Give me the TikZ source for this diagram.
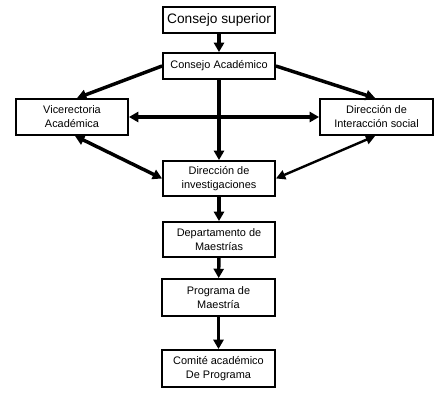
\documentclass[tikz,border=0pt]{standalone}
\usepackage{fontspec}
\setmainfont{Liberation Sans}
\usetikzlibrary{arrows.meta,calc}
\begin{document}
\begin{tikzpicture}[x=0.75pt,y=-0.75pt,
  box/.style={draw,line width=1.4pt,rectangle,inner sep=0pt,align=center,
    font=\fontsize{8.2pt}{10.5pt}\selectfont},
  arr/.style={line width=2.6pt,-{Triangle[length=7pt,width=7.5pt]}},
  darr/.style={line width=2.6pt,{Triangle[length=7pt,width=7.5pt]}-{Triangle[length=7pt,width=7.5pt]}},
  tarr/.style={line width=1.8pt,{Triangle[length=7pt,width=7pt]}-{Triangle[length=7pt,width=7pt]}}]
\useasboundingbox (0,0) rectangle (442,412);
\node[box,minimum width=84pt,minimum height=19.5pt,font=\fontsize{10.3pt}{12pt}\selectfont] (cs) at (219,20) {Consejo superior};
\node[box,minimum width=84pt,minimum height=19.5pt] (ca) at (219,66) {Consejo Académico};
\node[box,minimum width=84pt,minimum height=27pt] (vr) at (72,117) {Vicerectoria\\Académica};
\node[box,minimum width=84.75pt,minimum height=27pt] (di) at (376.5,117) {Dirección de\\Interacción social};
\node[box,minimum width=84pt,minimum height=26.25pt] (dinv) at (219,178.5) {Dirección de\\investigaciones};
\node[box,minimum width=84pt,minimum height=26.25pt] (dm) at (219,239.5) {Departamento de\\Maestrías};
\node[box,minimum width=84.75pt,minimum height=27.75pt] (pm) at (218.5,297.5) {Programa de\\Maestría};
\node[box,minimum width=84.75pt,minimum height=27.75pt] (cap) at (218.5,368.5) {Comité académico\\De Programa};
\draw[arr] (cs) -- (ca);
\draw[darr] (vr.east) -- (di.west);
\draw[arr] (ca) -- (dinv);
\draw[arr] (ca.west) -- ([xshift=3.75pt]vr.north);
\draw[arr] (ca.east) -- ([xshift=-1pt]di.north);
\draw[darr] ([xshift=2.25pt]vr.south) -- (dinv.west);
\draw[tarr] ([xshift=-1pt]di.south) -- (dinv.east);
\draw[arr] (dinv) -- (dm);
\draw[arr] (dm) -- (pm);
\draw[arr] (pm) -- (cap);
\end{tikzpicture}
\end{document}
